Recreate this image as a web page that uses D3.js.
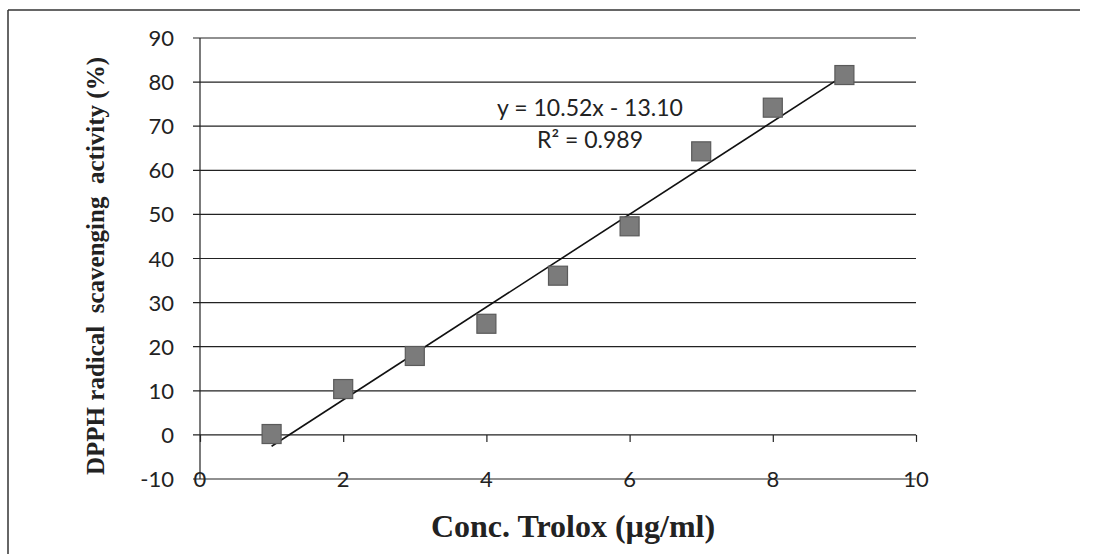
<!DOCTYPE html>
<html>
<head>
<meta charset="utf-8">
<script src="https://cdn.jsdelivr.net/npm/d3@7"></script>
<style>
  html, body { margin: 0; padding: 0; background: #fff; }
  svg { display: block; }
</style>
</head>
<body>
<svg id="chart" width="1098" height="554"></svg>
<script>
// Trolox standard curve: concentration vs DPPH scavenging
const concentrations = [1, 2, 3, 4, 5, 6, 7, 8, 9];
const scavenging = [0.2, 10.4, 17.9, 25.2, 36.1, 47.3, 64.3, 74.2, 81.6];
const xTicks = [0, 2, 4, 6, 8, 10];
const yTicks = [-10, 0, 10, 20, 30, 40, 50, 60, 70, 80, 90];
const slope = 10.52;
const intercept = -13.10;
const rSquared = 0.989;

const svg = d3.select("#chart");
const W = 1098, H = 554;

// frame around the chart
svg.append("line").attr("x1", 8).attr("x2", 1080).attr("y1", 10).attr("y2", 10)
  .attr("stroke", "#333").attr("stroke-width", 1.5);
svg.append("line").attr("x1", 8).attr("x2", 8).attr("y1", 10).attr("y2", H)
  .attr("stroke", "#333").attr("stroke-width", 1.5);

const x = d3.scaleLinear().domain([0, 10]).range([200, 916]);
const y = d3.scaleLinear().domain([-10, 90]).range([479, 38]);

const tickFont = "Lato, 'Open Sans', sans-serif";

// horizontal gridlines (extend slightly left of the axis as tick marks)
svg.append("g").selectAll("line").data(yTicks).join("line")
  .attr("x1", x(0) - 7).attr("x2", x(10))
  .attr("y1", d => y(d)).attr("y2", d => y(d))
  .attr("stroke", "#222").attr("stroke-width", 1.2);

// y axis line
svg.append("line").attr("x1", x(0)).attr("x2", x(0))
  .attr("y1", y(90)).attr("y2", y(-10))
  .attr("stroke", "#222").attr("stroke-width", 1.2);

// x axis at y = 0 with downward ticks
const xAxis = d3.axisBottom(x).tickValues(xTicks).tickSize(7).tickFormat("");
const gx = svg.append("g").attr("transform", `translate(0,${y(0)})`).call(xAxis);
gx.select(".domain").remove();
gx.selectAll(".tick line").attr("stroke", "#222").attr("stroke-width", 1.2);

// x tick labels sit low, on the -10 line
svg.append("g").selectAll("text").data(xTicks).join("text")
  .attr("x", d => x(d)).attr("y", y(-10) + 8)
  .attr("text-anchor", "middle")
  .attr("font-family", tickFont).attr("font-size", 22).attr("fill", "#222")
  .text(d => d);

// y tick labels
svg.append("g").selectAll("text").data(yTicks).join("text")
  .attr("x", x(0) - 26).attr("y", d => y(d) + 8)
  .attr("text-anchor", "end")
  .attr("font-family", tickFont).attr("font-size", 22).attr("fill", "#222")
  .text(d => d);

// linear trendline across the data range
const xr = d3.extent(concentrations);
svg.append("line")
  .attr("x1", x(xr[0])).attr("y1", y(slope * xr[0] + intercept))
  .attr("x2", x(xr[1])).attr("y2", y(slope * xr[1] + intercept))
  .attr("stroke", "#111").attr("stroke-width", 1.6);

// square markers
const s = 19;
svg.append("g").selectAll("rect").data(concentrations).join("rect")
  .attr("x", (d) => x(d) - s / 2)
  .attr("y", (d, i) => y(scavenging[i]) - s / 2)
  .attr("width", s).attr("height", s)
  .attr("fill", "#7b7b7b").attr("stroke", "#5a5a5a").attr("stroke-width", 1.2);

// equation label
const eq = svg.append("g").attr("font-family", tickFont).attr("font-size", 23).attr("fill", "#222");
eq.append("text").attr("x", 590).attr("y", 116).attr("text-anchor", "middle")
  .text(`y = ${slope.toFixed(2)}x - ${Math.abs(intercept).toFixed(2)}`);
eq.append("text").attr("x", 590).attr("y", 148).attr("text-anchor", "middle")
  .text(`R² = ${rSquared.toFixed(3)}`);

// axis titles
svg.append("text")
  .attr("transform", "translate(104,266) rotate(-90)")
  .attr("text-anchor", "middle")
  .attr("font-family", "'Liberation Serif', 'Times New Roman', serif")
  .attr("font-weight", "bold").attr("font-size", 25).attr("fill", "#222")
  .attr("xml:space", "preserve")
  .text("DPPH radical  scavenging  activity (%)");

svg.append("text")
  .attr("x", 573).attr("y", 537)
  .attr("text-anchor", "middle")
  .attr("font-family", "'Liberation Serif', 'Times New Roman', serif")
  .attr("font-weight", "bold").attr("font-size", 32).attr("fill", "#222")
  .text("Conc. Trolox (µg/ml)");
</script>
</body>
</html>
